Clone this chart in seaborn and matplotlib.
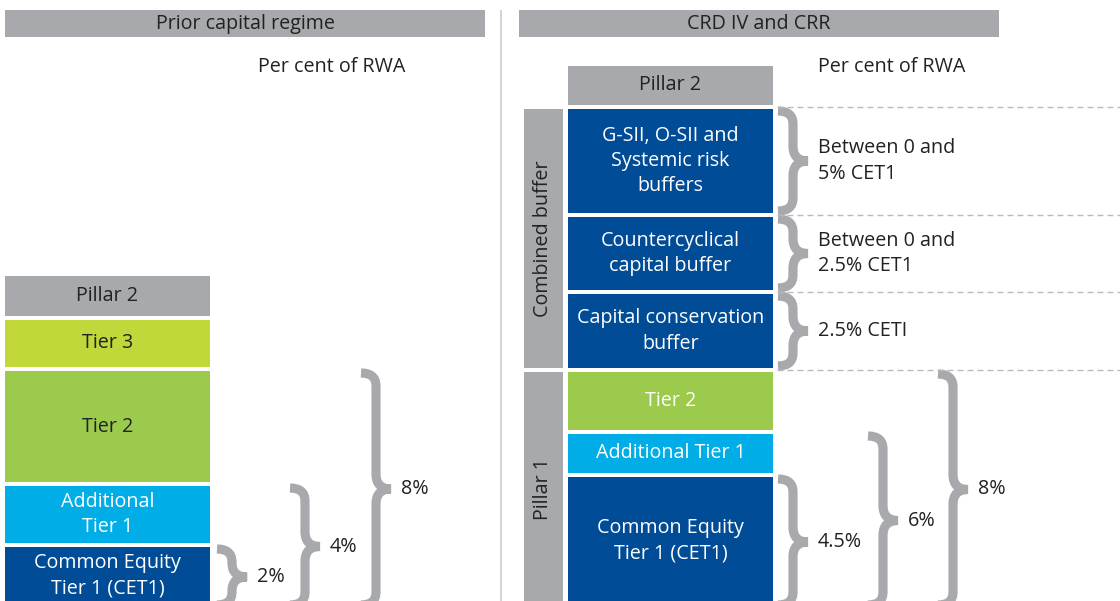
import numpy as np
import matplotlib
matplotlib.use("Agg")
import matplotlib.pyplot as plt
from matplotlib.path import Path
from matplotlib.patches import PathPatch
import seaborn as sns

sns.set_theme(style="white")
plt.rcParams["font.family"] = ["Open Sans", "DejaVu Sans"]

# ---- data -----------------------------------------------------------------
left_title = "Prior capital regime"
right_title = "CRD IV and CRR"
unit_label = "Per cent of RWA"

# blocks listed bottom -> top, sizes in drawing units
left_labels = ["Common Equity\nTier 1 (CET1)", "Additional\nTier 1", "Tier 2", "Tier 3", "Pillar 2"]
left_sizes = [58, 57, 111, 47, 40]
left_kinds = ["cet1", "at1", "tier2", "tier3", "pillar2"]

left_brace_labels = ["2%", "4%", "8%"]
left_brace_spans = [(0, 0), (0, 1), (0, 2)]

right_labels = [
    "Common Equity\nTier 1 (CET1)",
    "Additional Tier 1",
    "Tier 2",
    "Capital conservation\nbuffer",
    "Countercyclical\ncapital buffer",
    "G-SII, O-SII and\nSystemic risk\nbuffers",
    "Pillar 2",
]
right_sizes = [128, 39, 58, 74, 73, 104, 39]
right_kinds = ["cet1", "at1", "tier2", "buffer", "buffer", "buffer", "pillar2"]

right_brace_labels = ["4.5%", "6%", "8%", "2.5% CETI",
                      "Between 0 and\n2.5% CET1", "Between 0 and\n5% CET1"]
right_brace_spans = [(0, 0), (0, 1), (0, 2), (3, 3), (4, 4), (5, 5)]

right_groups = ["Pillar 1", "Combined buffer"]
right_group_spans = [(0, 2), (3, 5)]

# ---- styles ---------------------------------------------------------------
GRAY = "#A7A9AC"
DARK = "#222222"
fill = {"cet1": "#014C96", "at1": "#00ADE6", "tier2": "#9BCA4C",
        "tier3": "#C1D73A", "pillar2": GRAY, "buffer": "#014C96"}
left_text = {"cet1": "white", "at1": "white", "tier2": DARK, "tier3": DARK, "pillar2": DARK}
right_text = {"cet1": "white", "at1": "white", "tier2": "white", "buffer": "white", "pillar2": DARK}
FS = 14.2
LS = 1.36

BASE = 605
GAP = 4


def stack(sizes):
    sizes = np.asarray(sizes, dtype=float)
    bottoms = BASE - np.concatenate([[0], np.cumsum(sizes + GAP)[:-1]])
    tops = bottoms - sizes
    return tops, bottoms


def draw_brace(ax, x0, top, bottom, width=30, lw=6.6):
    ym = (top + bottom) / 2
    xm = x0 + width * 0.5
    r = min(13, (bottom - top) / 4)
    rm = min(15, (bottom - top) / 4)
    verts = [(x0, top), (xm, top), (xm, top + r),
             (xm, ym - rm),
             (xm, ym), (x0 + width, ym),
             (xm, ym), (xm, ym + rm),
             (xm, bottom - r),
             (xm, bottom), (x0, bottom)]
    codes = [Path.MOVETO, Path.CURVE3, Path.CURVE3,
             Path.LINETO,
             Path.CURVE3, Path.CURVE3,
             Path.CURVE3, Path.CURVE3,
             Path.LINETO,
             Path.CURVE3, Path.CURVE3]
    ax.add_patch(PathPatch(Path(verts, codes), fill=False, edgecolor=GRAY,
                           lw=lw, capstyle="butt", joinstyle="miter"))
    return ym


fig = plt.figure(figsize=(11.2, 6.01), dpi=100)
ax = fig.add_axes([0, 0, 1, 1])
ax.set_xlim(0, 1120)
ax.set_ylim(601, 0)
ax.axis("off")

# headers
for x0, x1, title in [(5, 485, left_title), (519, 999, right_title)]:
    ax.bar((x0 + x1) / 2, 27, bottom=10, width=x1 - x0, color=GRAY, linewidth=0)
    ax.text((x0 + x1) / 2, 24, title, ha="center", va="center", fontsize=FS, color=DARK)

ax.text(258, 67, unit_label, ha="left", va="center", fontsize=FS, color=DARK)
ax.text(818, 67, unit_label, ha="left", va="center", fontsize=FS, color=DARK)

# divider
ax.plot([501, 501], [10, 601], color="#CCCCCC", lw=1.2, solid_capstyle="butt")

# left stack
lt, lb = stack(left_sizes)
lx0, lx1 = 5, 210
ax.bar(np.full(len(lt), (lx0 + lx1) / 2), np.asarray(left_sizes), bottom=lt,
       width=lx1 - lx0, color=[fill[k] for k in left_kinds], linewidth=0)
for t, b, lab, k in zip(lt, lb, left_labels, left_kinds):
    ax.text((lx0 + lx1) / 2, (t + b) / 2, lab, ha="center", va="center",
            fontsize=FS, color=left_text[k], linespacing=LS)

left_brace_x = [217, 290, 361]
for (i0, i1), lab, bx in zip(left_brace_spans, left_brace_labels, left_brace_x):
    ym = draw_brace(ax, bx, lt[i1] + 2, lb[i0])
    ax.text(bx + 40, ym, lab, ha="left", va="center", fontsize=FS, color=DARK)

# right stack
rt, rb = stack(right_sizes)
rx0, rx1 = 568, 773
ax.bar(np.full(len(rt), (rx0 + rx1) / 2), np.asarray(right_sizes), bottom=rt,
       width=rx1 - rx0, color=[fill[k] for k in right_kinds], linewidth=0)
for t, b, lab, k in zip(rt, rb, right_labels, right_kinds):
    ax.text((rx0 + rx1) / 2, (t + b) / 2, lab, ha="center", va="center",
            fontsize=FS, color=right_text[k], linespacing=LS)

# side group bars
gx0, gx1 = 524, 563
for (i0, i1), lab in zip(right_group_spans, right_groups):
    top, bottom = rt[i1], rb[i0]
    ax.bar((gx0 + gx1) / 2, bottom - top, bottom=top, width=gx1 - gx0,
           color=GRAY, linewidth=0)
    ax.text((gx0 + gx1) / 2, (top + bottom) / 2, lab, ha="center", va="center",
            rotation=90, fontsize=FS, color=DARK)

# dashed separators for buffer section
for i in range(3, 7):
    y = rb[i] + GAP / 2
    ax.plot([777, 1120], [y, y], color="#B8BBBE", lw=1.0, dashes=(4.3, 2.9))

right_brace_x = [778, 868, 938, 778, 778, 778]
for (i0, i1), lab, bx in zip(right_brace_spans, right_brace_labels, right_brace_x):
    ym = draw_brace(ax, bx, rt[i1] + 2, rb[i0] - (2 if i0 >= 3 else 0))
    ax.text(bx + 40, ym, lab, ha="left", va="center", fontsize=FS,
            color=DARK, linespacing=LS)

fig.savefig("out.png", dpi=100)
